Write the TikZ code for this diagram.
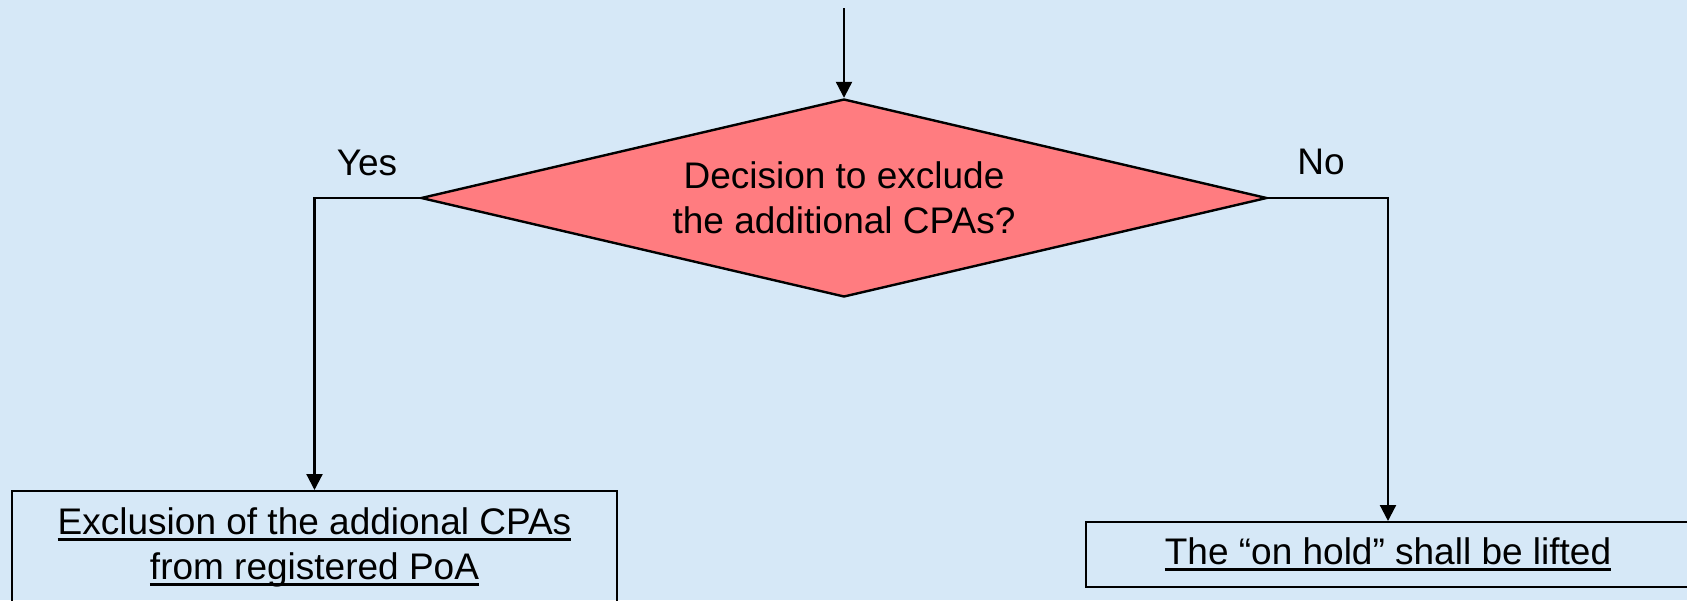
\documentclass[tikz,border=0pt]{standalone}
\usepackage{fontspec}
\setmainfont{Liberation Sans}
\usetikzlibrary{shapes.geometric,arrows.meta}
\definecolor{bgblue}{RGB}{214,232,247}
\definecolor{decred}{RGB}{255,124,128}
\newcommand\myul[1]{\leavevmode\setbox0\hbox{#1}\rlap{\rule[-6.5pt]{\wd0}{3pt}}\box0}
\tikzset{
  x=1pt, y=-1pt,
  decision/.style={diamond, draw=black, line width=2.4pt, fill=decred, aspect=4.27,
    minimum width=846pt, minimum height=198pt, inner sep=0pt, align=center,
    font=\fontsize{37}{44.5}\selectfont},
  outbox/.style={rectangle, draw=black, line width=2pt, inner sep=0pt, align=center,
    font=\fontsize{37}{45}\selectfont},
  lbl/.style={inner sep=0pt, anchor=base, font=\fontsize{37}{44}\selectfont},
  conn/.style={draw=black, line width=2.2pt, -{Triangle[width=16pt,length=16pt]}}
}
\begin{document}
\begin{tikzpicture}
\useasboundingbox (0,0) rectangle (1687,600);
\fill[bgblue] (0,0) rectangle (1687,600);
\clip (0,0) rectangle (1687,600);
\coordinate (start) at (844,8);
\node[decision] (dec) at (844,198) {Decision to exclude\\the additional CPAs?};
\node[outbox, minimum width=605pt, minimum height=112pt] (yesbox) at (314.5,547)
  {\myul{Exclusion of the addional CPAs}\\\myul{from registered PoA}};
\node[outbox, minimum width=604pt, minimum height=65pt] (nobox) at (1388,554.5)
  {\myul{The “on hold” shall be lifted}};
\node[lbl] (yes) at (367,175) {Yes};
\node[lbl] (no) at (1321,174) {No};
\draw[conn] (start) -- (dec.north);
\draw[conn] (dec.west) -| (yesbox.north);
\draw[conn] (dec.east) -| (nobox.north);
\end{tikzpicture}
\end{document}
